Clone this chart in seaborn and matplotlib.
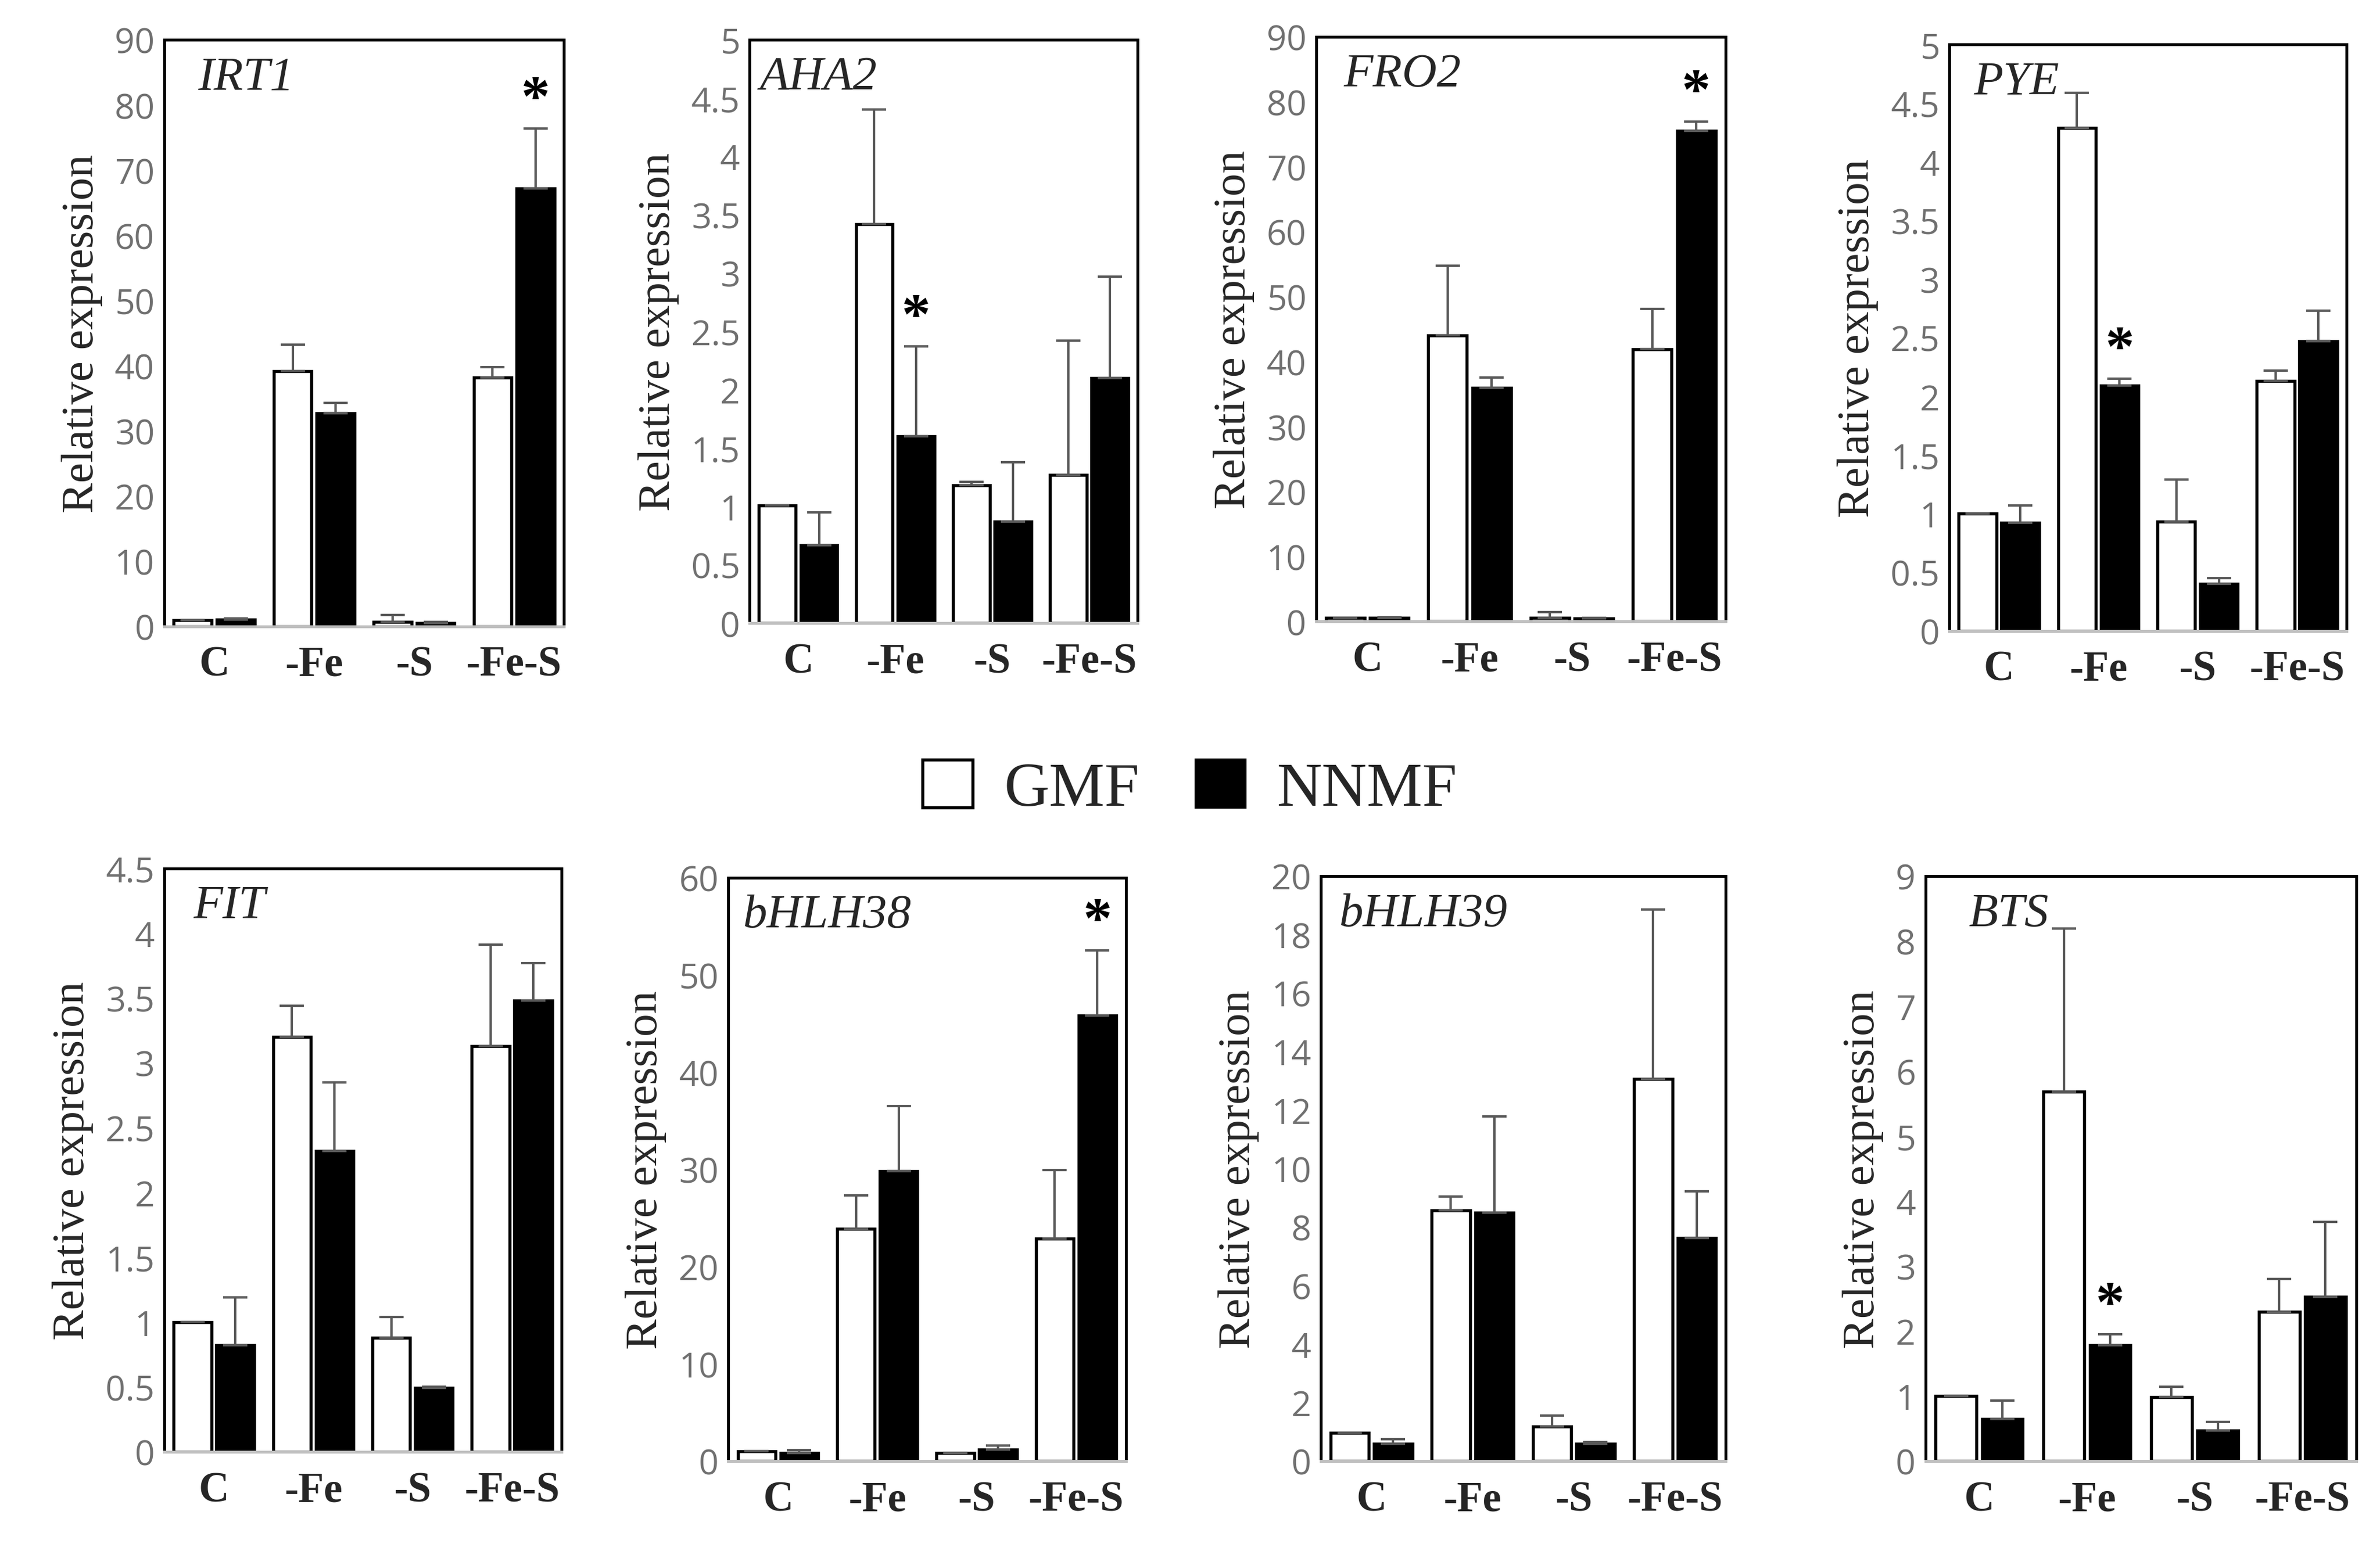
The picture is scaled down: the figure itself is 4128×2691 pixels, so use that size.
import matplotlib
matplotlib.use("Agg")
import matplotlib.pyplot as plt
import seaborn as sns
import numpy as np
import pandas as pd
from matplotlib.patches import Patch

# treatments and lines
conditions = ["C", "-Fe", "-S", "-Fe-S"]
lines = ["GMF", "NNMF"]

# values (mean and upper error)
irt1_gmf = [0.9, 39.1, 0.7, 38.2]
irt1_gmf_sd = [0.0, 4.1, 1.0, 1.6]
irt1_nnmf = [1.0, 32.7, 0.5, 67.2]
irt1_nnmf_sd = [0.2, 1.6, 0.2, 9.2]

aha2_gmf = [1.01, 3.42, 1.18, 1.27]
aha2_gmf_sd = [0.0, 0.98, 0.03, 1.15]
aha2_nnmf = [0.67, 1.60, 0.87, 2.10]
aha2_nnmf_sd = [0.28, 0.77, 0.51, 0.87]

fro2_gmf = [0.6, 44.0, 0.6, 41.9]
fro2_gmf_sd = [0.0, 10.8, 0.9, 6.2]
fro2_nnmf = [0.6, 36.0, 0.5, 75.5]
fro2_nnmf_sd = [0.1, 1.6, 0.1, 1.4]

pye_gmf = [1.00, 4.29, 0.93, 2.13]
pye_gmf_sd = [0.0, 0.30, 0.36, 0.09]
pye_nnmf = [0.92, 2.09, 0.40, 2.47]
pye_nnmf_sd = [0.15, 0.06, 0.05, 0.26]

fit_gmf = [1.00, 3.20, 0.88, 3.13]
fit_gmf_sd = [0.0, 0.24, 0.16, 0.78]
fit_nnmf = [0.82, 2.32, 0.49, 3.48]
fit_nnmf_sd = [0.37, 0.53, 0.01, 0.29]

bhlh38_gmf = [1.0, 23.9, 0.8, 22.9]
bhlh38_gmf_sd = [0.0, 3.4, 0.0, 7.0]
bhlh38_nnmf = [0.8, 29.8, 1.2, 45.8]
bhlh38_nnmf_sd = [0.3, 6.7, 0.4, 6.7]

bhlh39_gmf = [0.97, 8.57, 1.17, 13.06]
bhlh39_gmf_sd = [0.0, 0.47, 0.38, 5.80]
bhlh39_nnmf = [0.58, 8.49, 0.58, 7.63]
bhlh39_nnmf_sd = [0.16, 3.30, 0.06, 1.59]

bts_gmf = [1.00, 5.68, 0.98, 2.30]
bts_gmf_sd = [0.0, 2.51, 0.16, 0.50]
bts_nnmf = [0.65, 1.78, 0.47, 2.53]
bts_nnmf_sd = [0.28, 0.17, 0.13, 1.15]

# axis ranges
y_max = [90, 5, 90, 5, 4.5, 60, 20, 9]
y_step = [10, 0.5, 10, 0.5, 0.5, 10, 2, 1]

# significant bars: (condition index, line)
irt1_stars = [(3, "NNMF")]
aha2_stars = [(1, "NNMF")]
fro2_stars = [(3, "NNMF")]
pye_stars = [(1, "NNMF")]
fit_stars = []
bhlh38_stars = [(3, "NNMF")]
bhlh39_stars = []
bts_stars = [(1, "NNMF")]

panels = [
    ("IRT1", irt1_gmf, irt1_gmf_sd, irt1_nnmf, irt1_nnmf_sd, irt1_stars),
    ("AHA2", aha2_gmf, aha2_gmf_sd, aha2_nnmf, aha2_nnmf_sd, aha2_stars),
    ("FRO2", fro2_gmf, fro2_gmf_sd, fro2_nnmf, fro2_nnmf_sd, fro2_stars),
    ("PYE", pye_gmf, pye_gmf_sd, pye_nnmf, pye_nnmf_sd, pye_stars),
    ("FIT", fit_gmf, fit_gmf_sd, fit_nnmf, fit_nnmf_sd, fit_stars),
    ("bHLH38", bhlh38_gmf, bhlh38_gmf_sd, bhlh38_nnmf, bhlh38_nnmf_sd, bhlh38_stars),
    ("bHLH39", bhlh39_gmf, bhlh39_gmf_sd, bhlh39_nnmf, bhlh39_nnmf_sd, bhlh39_stars),
    ("BTS", bts_gmf, bts_gmf_sd, bts_nnmf, bts_nnmf_sd, bts_stars),
]

# layout: axes rectangles (left, bottom, width, height) and gene-label x offset
rects = [
    (0.069, 0.596, 0.168, 0.378),
    (0.315, 0.598, 0.163, 0.376),
    (0.553, 0.599, 0.172, 0.377),
    (0.819, 0.593, 0.167, 0.378),
    (0.069, 0.064, 0.167, 0.376),
    (0.306, 0.058, 0.167, 0.376),
    (0.555, 0.058, 0.170, 0.377),
    (0.809, 0.058, 0.181, 0.377),
]
label_x = [0.084, 0.025, 0.067, 0.062, 0.073, 0.038, 0.045, 0.10]

sns.set_theme(style="white")
serif = ["Liberation Serif", "DejaVu Serif"]
sans = ["Open Sans", "DejaVu Sans"]
plt.rcParams["font.family"] = serif

fig = plt.figure(figsize=(13.76, 8.9733), dpi=300)

for (gene, gmf, gmf_sd, nnmf, nnmf_sd, stars), rect, ymax, step, lx in zip(
        panels, rects, y_max, y_step, label_x):
    ax = fig.add_axes(rect)
    df = pd.DataFrame({
        "condition": conditions * 2,
        "line": ["GMF"] * 4 + ["NNMF"] * 4,
        "value": gmf + nnmf,
        "sd": gmf_sd + nnmf_sd,
    })
    sns.barplot(data=df, x="condition", y="value", hue="line",
                order=conditions, hue_order=lines,
                palette={"GMF": "white", "NNMF": "black"},
                edgecolor="black", linewidth=1.3, width=0.86, gap=0.12,
                errorbar=None, legend=False, ax=ax)

    # upper error bars from the drawn bars
    for cont, line in zip(ax.containers, lines):
        sub = df[df["line"] == line]
        xs = [p.get_x() + p.get_width() / 2 for p in cont]
        hs = [p.get_height() for p in cont]
        ax.errorbar(xs, hs, yerr=[np.zeros(len(hs)), sub["sd"].values],
                    fmt="none", ecolor="#595959", elinewidth=1.0,
                    capsize=5, capthick=1.0, zorder=3)
        for ci, ln in stars:
            if ln == line:
                ax.annotate("*", xy=(xs[ci], hs[ci] + sub["sd"].values[ci]),
                            xytext=(0, 1), textcoords="offset points",
                            ha="center", va="bottom", fontsize=24,
                            fontweight="bold", color="black")

    ax.set_xlim(-0.5, 3.5)
    ax.set_ylim(0, ymax)
    ax.set_yticks(np.arange(0, ymax + step / 2, step))
    ax.set_yticklabels([f"{t:g}" for t in np.arange(0, ymax + step / 2, step)],
                       family=sans, fontsize=14.5, color="#707070")
    ax.set_xticks(range(len(conditions)))
    ax.set_xticklabels(conditions, fontsize=17.5, fontweight="bold")
    ax.tick_params(axis="both", length=0)
    ax.tick_params(axis="x", pad=8)
    ax.tick_params(axis="y", pad=4)
    ax.set_xlabel("")
    ax.set_ylabel("Relative expression", fontsize=19, labelpad=5)
    for side in ["left", "top", "right"]:
        ax.spines[side].set_color("black")
        ax.spines[side].set_linewidth(1.2)
    ax.spines["bottom"].set_color("#bfbfbf")
    ax.spines["bottom"].set_linewidth(1.2)
    ax.text(lx, 0.935, gene, transform=ax.transAxes, ha="left", va="center",
            fontsize=20, style="italic")

handles = [Patch(facecolor="white", edgecolor="black", linewidth=1.3, label="GMF"),
           Patch(facecolor="black", edgecolor="black", label="NNMF")]
fig.legend(handles=handles, loc="center", bbox_to_anchor=(0.5, 0.491), ncol=2,
           frameon=False, fontsize=26, handlelength=0.8, handleheight=0.8,
           handletextpad=0.5, columnspacing=0.9)

fig.savefig("out.png", dpi=300)
